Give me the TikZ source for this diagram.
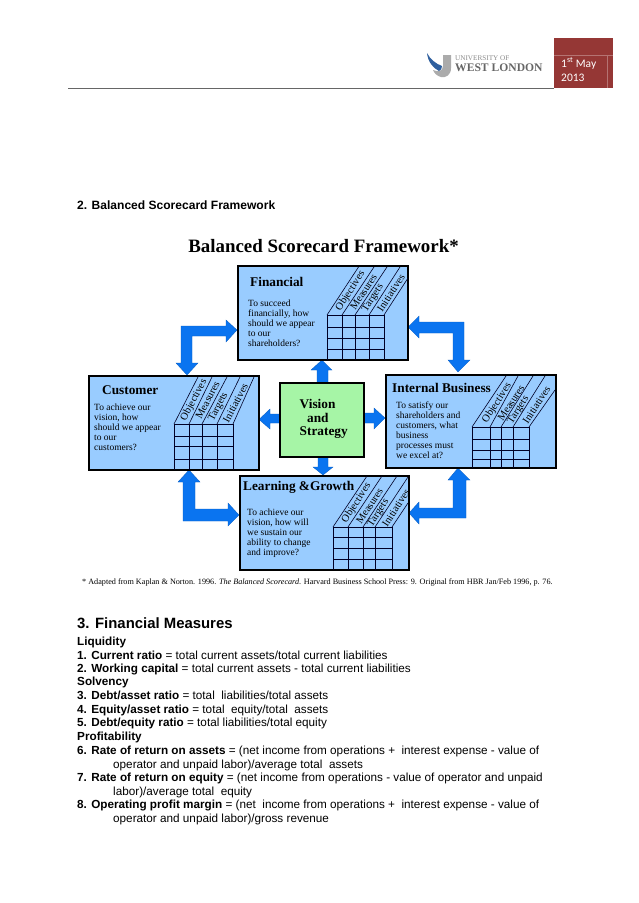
\documentclass[tikz,border=0pt]{standalone}
\usepackage{fontspec}
\setmainfont{Liberation Serif}
\newfontfamily\arialf{Liberation Sans}
\newfontfamily\calf{Carlito}
\definecolor{panelblue}{HTML}{99CCFF}
\definecolor{panelgreen}{HTML}{A6F5A6}
\definecolor{arrowblue}{HTML}{0A74F0}
\definecolor{deepred}{HTML}{953735}
\definecolor{logoblue}{HTML}{2F5F9E}
\tikzset{
 panel/.style={draw=black,line width=1.5pt,fill=panelblue,minimum width=#1,inner sep=0pt},
 blockarrow/.style={fill=arrowblue,draw=arrowblue!80!black,line width=.3pt},
 gridline/.style={draw=black!85!blue,line width=.6pt},
 paneltitle/.style={font=\fontsize{13.3}{15}\selectfont\bfseries,inner sep=0pt,anchor=west},
 paneltext/.style={font=\fontsize{9.5}{10}\selectfont,align=left,inner sep=0pt,anchor=north west},
 slant/.style={font=\fontsize{10.5}{11}\selectfont,inner sep=0pt},
 visiontext/.style={font=\fontsize{13.3}{15}\selectfont\bfseries,inner sep=0pt,anchor=west},
 bodyline/.style={font=\arialf\fontsize{11.73}{13}\selectfont,inner sep=0pt,anchor=base west},
 hang/.style={bodyline,xshift=36pt},
}
\begin{document}
\begin{tikzpicture}[x=1pt,y=-1pt]
\useasboundingbox (0,0) rectangle (638,903);
\fill[white] (0,0) rectangle (638,903);
% header
\fill[deepred] (554,38) rectangle (613,88);
\draw[deepred!70!white,line width=.4pt] (554,55) -- (613,55) (607,55) -- (607,88);
\draw[black!60,line width=.7pt] (68,88) -- (554,88);
\node[font=\calf\fontsize{11.5}{14}\selectfont,text=white,inner sep=0pt,anchor=base west] (date1) at (561,67) {1\textsuperscript{st} May};
\node[font=\calf\fontsize{11.5}{14}\selectfont,text=white,inner sep=0pt,anchor=base west] (date2) at (561,81) {2013};
% logo
\fill[black!33] (443,55) -- (451,55) -- (451,68) .. controls (451,75) and (446,78) .. (441,77) .. controls (437,76) and (434,73) .. (433,70) .. controls (437,72) and (443,72) .. (443,66) -- cycle;
\fill[logoblue] (427,53) .. controls (430,59) and (436,64) .. (442,66) .. controls (442,69) and (441,70) .. (439,71) .. controls (433,68) and (428,62) .. (427,53) -- cycle;
\node[font=\fontsize{7.2}{8}\selectfont,text=black!45,inner sep=0pt,anchor=base west] (uni) at (455,60.5) {UNIVERSITY OF};
\node[font=\fontsize{11.6}{13}\selectfont\bfseries,text=black!60,inner sep=0pt,anchor=base west] (wl) at (455,71) {WEST LONDON};
% headings
\node[font=\arialf\fontsize{12.05}{14}\selectfont\bfseries,inner sep=0pt,anchor=base west] (h2) at (77,209.5) {2. Balanced Scorecard Framework};
\node[font=\fontsize{18.9}{20}\selectfont\bfseries,inner sep=0pt] (title) at (323.5,246) {Balanced Scorecard Framework*};
% block arrows
\draw[blockarrow] (181,326) -- (226,326) -- (226,320) -- (237,330) -- (226,342) -- (226,336) -- (192,336) -- (192,363) -- (198,363) -- (187,375) -- (176,363) -- (181,363) -- cycle;
\draw[blockarrow] (408,327) -- (419,316) -- (419,322) -- (464,322) -- (464,360) -- (470,360) -- (458,372) -- (448,360) -- (453,360) -- (453,333) -- (419,333) -- (419,338) -- cycle;
\draw[blockarrow] (189,470) -- (200,482) -- (195,482) -- (195,509) -- (228,509) -- (228,503) -- (239,515) -- (228,526) -- (228,521) -- (183,521) -- (183,482) -- (178,482) -- cycle;
\draw[blockarrow] (409,513) -- (419,502) -- (419,508) -- (453,508) -- (453,480) -- (448,480) -- (458,468) -- (470,480) -- (466,480) -- (466,518) -- (419,518) -- (419,524) -- cycle;
\draw[blockarrow] (322,360) -- (332,370) -- (328,370) -- (328,383) -- (317,383) -- (317,370) -- (311,370) -- cycle;
\draw[blockarrow] (385,418) -- (374,429) -- (374,423) -- (364,423) -- (364,413) -- (374,413) -- (374,408) -- cycle;
\draw[blockarrow] (259,419.5) -- (270,409) -- (270,414) -- (280,414) -- (280,423) -- (270,423) -- (270,429) -- cycle;
\draw[blockarrow] (323,475) -- (333,467) -- (328,467) -- (328,457) -- (318,457) -- (318,467) -- (313,467) -- cycle;
% panels
\node[panel=170pt,minimum height=94pt] (fin) at (323,313) {};
\node[panel=170pt,minimum height=94pt] (cus) at (174,423) {};
\node[panel=170pt,minimum height=93pt] (int) at (471,421.5) {};
\node[panel=169pt,minimum height=94pt] (lea) at (324.5,523) {};
\node[panel=84pt,fill=panelgreen,minimum height=74pt] (vis) at (322,420) {};
% vision text
\node[visiontext] (v1) at (299.5,404) {Vision};
\node[visiontext] (v2) at (307,418) {and};
\node[visiontext] (v3) at (299.5,432.5) {Strategy};
% titles
\node[paneltitle] (t1) at (250,282) {Financial};
\node[paneltitle] (t2) at (102,390) {Customer};
\node[paneltitle] (t3) at (392,388) {Internal Business};
\node[paneltitle] (t4) at (243,487) {Learning \&Growth};
% panel text
\node[paneltext] (p1) at (248,299.5) {To succeed\\financially, how\\should we appear\\to our\\shareholders?};
\node[paneltext] (p2) at (94,404) {To achieve our\\vision, how\\should we appear\\to our\\customers?};
\node[paneltext] (p3) at (396,402) {To satisfy our\\shareholders and\\customers, what\\business\\processes must\\we excel at?};
\node[paneltext] (p4) at (247,509) {To achieve our\\vision, how will\\we sustain our\\ability to change\\and improve?};
% financial grid
\draw[gridline] (327,315) -- (384,315) (327,327) -- (384,327) (327,338) -- (384,338) (327,349.5) -- (384,349.5);
\draw[gridline] (327,315) -- (327,360) (342,315) -- (342,360) (355,315) -- (355,360) (369,315) -- (369,360) (384,315) -- (384,360);
\draw[gridline] (327,315) -- (358.5,267) (342,315) -- (374,267) (355,315) -- (387,267) (369,315) -- (400,267) (384,315) -- (408,278);
% customer grid
\draw[gridline] (174,424) -- (233,424) (174,436) -- (233,436) (174,446) -- (233,446) (174,459) -- (233,459);
\draw[gridline] (174,424) -- (174,470) (189,424) -- (189,470) (202,424) -- (202,470) (217,424) -- (217,470) (233,424) -- (233,470);
\draw[gridline] (174,424) -- (198,377) (189,424) -- (212,377) (202,424) -- (227,377) (217,424) -- (240,377) (233,424) -- (254,377);
% internal grid
\draw[gridline] (472,427) -- (529,427) (472,439) -- (529,439) (472,450) -- (529,450) (472,459) -- (529,459);
\draw[gridline] (472,427) -- (472,468) (490,427) -- (490,468) (501,427) -- (501,468) (513,427) -- (513,468) (529,427) -- (529,468);
\draw[gridline] (472,427) -- (506,376) (490,427) -- (518,376) (501,427) -- (533,376) (513,427) -- (545,376) (529,427) -- (555,390);
% learning grid
\draw[gridline] (333,527) -- (392,527) (333,537) -- (392,537) (333,548) -- (392,548) (333,559) -- (392,559);
\draw[gridline] (333,527) -- (333,570) (348,527) -- (348,570) (363,527) -- (363,570) (375,527) -- (375,570) (392,527) -- (392,570);
\draw[gridline] (333,527) -- (367,476) (348,527) -- (382,476) (363,527) -- (397,476) (375,527) -- (408,477) (392,527) -- (408,503);
% slanted labels
\begin{scope}[every node/.append style={rotate=57}]
\node[slant] (a1) at (350.5,291) {Objectives};
\node[slant] (a2) at (363.5,292) {Measures};
\node[slant] (a3) at (373,298) {Targets};
\node[slant] (a4) at (391,293) {Initiatives};
\node[slant] (d1) at (356.5,503) {Objectives};
\node[slant] (d2) at (369.5,506) {Measures};
\node[slant] (d3) at (378.5,513) {Targets};
\node[slant] (d4) at (396,508) {Initiatives};
\node[slant] (c1) at (497,403) {Objectives};
\node[slant] (c2) at (511,403) {Measures};
\node[slant] (c3) at (518.5,410) {Targets};
\node[slant] (c4) at (536.5,405) {Initiatives};
\end{scope}
\begin{scope}[every node/.append style={rotate=62}]
\node[slant] (b1) at (194,400) {Objectives};
\node[slant] (b2) at (207.5,400) {Measures};
\node[slant] (b3) at (218.5,407) {Targets};
\node[slant] (b4) at (235.5,403) {Initiatives};
\end{scope}
% footnote
\node[font=\fontsize{8.17}{10}\selectfont,inner sep=0pt,anchor=base west] (foot) at (82,584) {* Adapted from Kaplan \& Norton. 1996. \textit{The Balanced Scorecard}. Harvard Business School Press: 9. Original from HBR Jan/Feb 1996, p. 76.};
% section 3
\node[font=\arialf\fontsize{14.9}{18}\selectfont\bfseries,inner sep=0pt,anchor=base west] (h3) at (77,628) {3. Financial Measures};
\node[bodyline] (l1) at (77,645) {\bfseries Liquidity};
\node[bodyline] (l2) at (77,659) {\textbf{1. Current ratio} = total current assets/total current liabilities};
\node[bodyline] (l3) at (77,672.5) {\textbf{2. Working capital} = total current assets - total current liabilities};
\node[bodyline] (l4) at (77,685.5) {\bfseries Solvency};
\node[bodyline] (l5) at (77,699.5) {\textbf{3. Debt/asset ratio} = total\ \ liabilities/total assets};
\node[bodyline] (l6) at (77,713) {\textbf{4. Equity/asset ratio} = total\ \ equity/total\ \ assets};
\node[bodyline] (l7) at (77,726.5) {\textbf{5. Debt/equity ratio} = total liabilities/total equity};
\node[bodyline] (l8) at (77,740) {\bfseries Profitability};
\node[bodyline] (l9) at (77,754) {\textbf{6. Rate of return on assets} = (net income from operations +\ \ interest expense - value of};
\node[hang] (l10) at (77,768) {operator and unpaid labor)/average total\ \ assets};
\node[bodyline] (l11) at (77,781.5) {\textbf{7. Rate of return on equity} = (net income from operations - value of operator and unpaid};
\node[hang] (l12) at (77,795) {labor)/average total\ \ equity};
\node[bodyline] (l13) at (77,808.5) {\textbf{8. Operating profit margin} = (net\ \ income from operations +\ \ interest expense - value of};
\node[hang] (l14) at (77,822) {operator and unpaid labor)/gross revenue};
\end{tikzpicture}
\end{document}
